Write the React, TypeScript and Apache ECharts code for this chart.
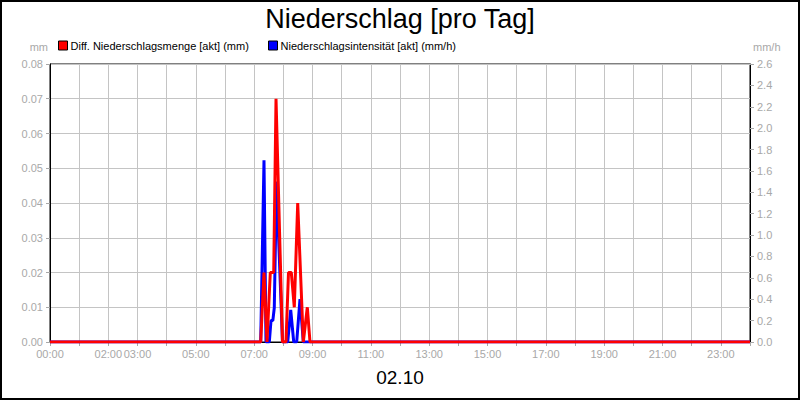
import React, { useEffect, useRef } from "react";
import * as echarts from "echarts";

const titleText = "Niederschlag [pro Tag]";
const dateText = "02.10";
const redName = "Diff. Niederschlagsmenge [akt] (mm)";
const blueName = "Niederschlagsintensität [akt] (mm/h)";

// hours of day
const redTimes = [0, 7.224, 7.337, 7.44, 7.553, 7.67, 7.749, 7.971, 8.091, 8.177, 8.273, 8.376, 8.493, 8.685, 8.822, 8.914, 24];
const redValues = [0, 0, 0.02, 0, 0.02, 0.02, 0.07, 0, 0, 0.02, 0.02, 0.01, 0.04, 0, 0.01, 0, 0];

const blueTimes = [0, 7.224, 7.337, 7.405, 7.52, 7.577, 7.64, 7.69, 7.766, 7.971, 8.15, 8.253, 8.356, 8.458, 8.571, 8.685, 24];
const blueValues = [0, 0, 1.7, 0, 0, 0.2, 0.2, 0.32, 1.5, 0, 0, 0.3, 0, 0, 0.4, 0, 0];

const xLabelHours = [0, 2, 3, 5, 7, 9, 11, 13, 15, 17, 19, 21, 23];

const FONT = "Liberation Sans, Arial, sans-serif";
const GRAY = "#a8a8a8";

export default function App() {
  const ref = useRef<HTMLDivElement>(null);
  useEffect(() => {
    document.body.style.margin = "0";
    const chart = echarts.init(ref.current!, null, { renderer: "svg" });
    const red = redTimes.map((t, i) => [t, redValues[i]]);
    const blue = blueTimes.map((t, i) => [t, blueValues[i]]);
    chart.setOption({
      animation: false,
      backgroundColor: "#fff",
      textStyle: { fontFamily: FONT },
      title: [
        {
          text: titleText,
          left: "center",
          top: 0,
          textStyle: { fontSize: 27, fontWeight: "normal", color: "#000", fontFamily: FONT },
        },
        {
          text: dateText,
          left: "center",
          top: 363,
          textStyle: { fontSize: 19, fontWeight: "normal", color: "#000", fontFamily: FONT },
        },
      ],
      legend: [
        {
          data: [redName],
          left: 53,
          top: 35,
          icon: "rect",
          itemWidth: 9,
          itemHeight: 9,
          itemGap: 4,
          itemStyle: { borderColor: "#000", borderWidth: 1 },
          textStyle: { fontSize: 11, color: "#000", fontFamily: FONT, padding: [0, 0, 0, -2] },
        },
        {
          data: [blueName],
          left: 263,
          top: 35,
          icon: "rect",
          itemWidth: 9,
          itemHeight: 9,
          itemStyle: { borderColor: "#000", borderWidth: 1 },
          textStyle: { fontSize: 11, color: "#000", fontFamily: FONT, padding: [0, 0, 0, -2] },
        },
      ],
      grid: {
        left: 50,
        right: 50,
        top: 64,
        bottom: 58,
        show: true,
        borderColor: "#000",
        borderWidth: 1,
        backgroundColor: "transparent",
      },
      graphic: [
        {
          type: "rect",
          shape: { x: 1, y: 1, width: 798, height: 398 },
          style: { fill: "none", stroke: "#000", lineWidth: 2 },
          silent: true,
        },
      ],
      xAxis: {
        type: "value",
        min: 0,
        max: 24,
        interval: 1,
        axisLine: { show: true, lineStyle: { color: "#000", width: 1 } },
        axisTick: { show: true, length: 4, lineStyle: { color: GRAY } },
        splitLine: { show: true, lineStyle: { color: "#c4c4c4", width: 1 } },
        axisLabel: {
          margin: 6,
          fontSize: 11,
          color: GRAY,
          fontFamily: FONT,
          showMaxLabel: true,
          formatter: (v: number) =>
            xLabelHours.includes(v) ? (v < 10 ? "0" + v : "" + v) + ":00" : "",
        },
      },
      yAxis: [
        {
          type: "value",
          min: 0,
          max: 0.08,
          interval: 0.01,
          name: "mm",
          nameLocation: "end",
          nameGap: 12,
          nameTextStyle: { color: GRAY, fontSize: 11, align: "right", padding: [0, 2, 0, 0], fontFamily: FONT },
          axisLine: { show: true, lineStyle: { color: "#000" } },
          axisTick: { show: true, length: 4, lineStyle: { color: GRAY } },
          splitLine: { show: true, lineStyle: { color: "#c4c4c4", width: 1 } },
          axisLabel: {
            margin: 7,
            fontSize: 11,
            color: GRAY,
            fontFamily: FONT,
            formatter: (v: number) => v.toFixed(2),
          },
        },
        {
          type: "value",
          min: 0,
          max: 2.6,
          interval: 0.2,
          position: "right",
          name: "mm/h",
          nameLocation: "end",
          nameGap: 12,
          nameTextStyle: { color: GRAY, fontSize: 11, align: "left", padding: [0, 0, 0, 3], fontFamily: FONT },
          axisLine: { show: true, lineStyle: { color: "#000" } },
          axisTick: { show: true, length: 4, lineStyle: { color: GRAY } },
          splitLine: { show: false },
          axisLabel: {
            margin: 7,
            fontSize: 11,
            color: GRAY,
            fontFamily: FONT,
            formatter: (v: number) => v.toFixed(1),
          },
        },
      ],
      series: [
        {
          name: redName,
          type: "line",
          yAxisIndex: 0,
          data: red,
          showSymbol: false,
          symbol: "none",
          z: 4,
          color: "#ff0000",
          lineStyle: { color: "#ff0000", width: 3 },
          itemStyle: { color: "#ff0000" },
        },
        {
          name: blueName,
          type: "line",
          yAxisIndex: 1,
          data: blue,
          showSymbol: false,
          symbol: "none",
          z: 3,
          color: "#0000ff",
          lineStyle: { color: "#0000ff", width: 3 },
          itemStyle: { color: "#0000ff" },
        },
      ],
    });
    return () => chart.dispose();
  }, []);
  return <div ref={ref} style={{ width: 800, height: 400 }} />;
}
